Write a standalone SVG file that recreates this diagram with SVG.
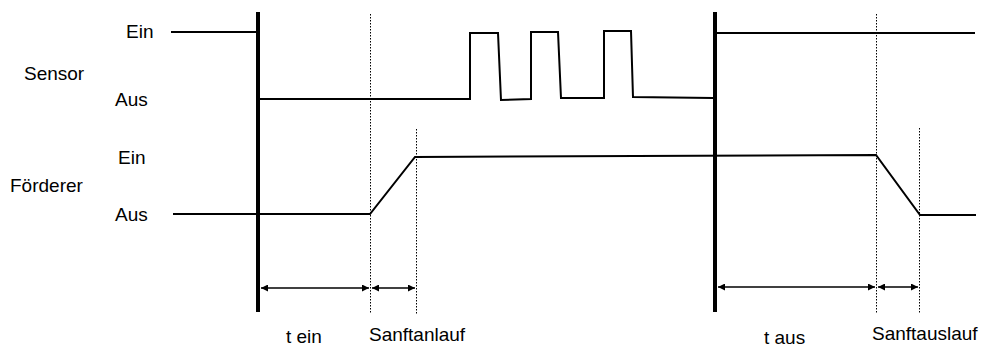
<svg xmlns="http://www.w3.org/2000/svg" width="993" height="347" viewBox="0 0 993 347">
<style>
text{font-family:"Liberation Sans",Arial,sans-serif;font-size:19px;fill:#000}
.sig{fill:none;stroke:#000;stroke-width:2;stroke-linejoin:miter}
.thick{stroke:#000;stroke-width:4}
.dot{stroke:#000;stroke-width:1;stroke-dasharray:1.5 1.5}
.dim{stroke:#000;stroke-width:1.3;marker-start:url(#ah);marker-end:url(#ah)}
</style>
<defs>
<marker id="ah" viewBox="0 0 10 10" refX="10" refY="5" markerWidth="9" markerHeight="7" markerUnits="userSpaceOnUse" orient="auto-start-reverse">
<path d="M0,0 L10,5 L0,10 z" fill="#000"/>
</marker>
</defs>
<g id="labels">
<text x="126" y="38">Ein</text>
<text x="24" y="80">Sensor</text>
<text x="115" y="106">Aus</text>
<text x="118" y="164">Ein</text>
<text x="10" y="192">Förderer</text>
<text x="115" y="221">Aus</text>
<text x="286" y="343">t ein</text>
<text x="369" y="341">Sanftanlauf</text>
<text x="764" y="344">t aus</text>
<text x="872" y="340">Sanftauslauf</text>
</g>
<g id="sensor-signal">
<path class="sig" d="M171,32 L257,32"/>
<path class="sig" d="M259,99 L470,99 L470,33 L498,33 L501,100 L531,99 L531,32 L558,32 L561,98 L604,98 L604,31 L631,31 L633,97 L713,98"/>
<path class="sig" d="M717,33 L975,33"/>
</g>
<g id="conveyor-signal">
<path class="sig" d="M173,214 L370,214 L415,157 L876,155 L920,215 L976,215"/>
</g>
<g id="markers">
<line class="thick" x1="258" y1="12" x2="258" y2="312"/>
<line class="thick" x1="715" y1="12" x2="715" y2="312"/>
<line class="dot" x1="370.5" y1="14" x2="370.5" y2="314"/>
<line class="dot" x1="416.5" y1="129" x2="416.5" y2="314"/>
<line class="dot" x1="876.5" y1="14" x2="876.5" y2="314"/>
<line class="dot" x1="919.5" y1="128" x2="919.5" y2="314"/>
</g>
<g id="connectors">
<line class="dim" x1="261" y1="288" x2="369" y2="288"/>
<line class="dim" x1="372" y1="288" x2="415" y2="288"/>
<line class="dim" x1="718" y1="287" x2="875" y2="287"/>
<line class="dim" x1="878" y1="287" x2="918" y2="287"/>
</g>
</svg>
